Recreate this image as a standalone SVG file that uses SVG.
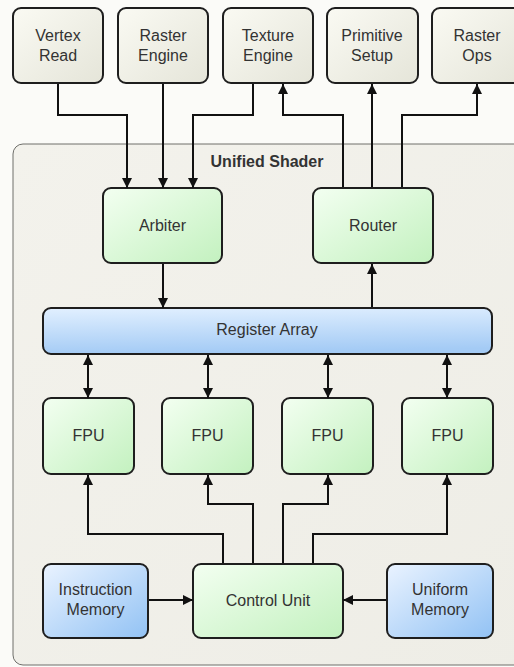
<svg xmlns="http://www.w3.org/2000/svg" width="514" height="667" viewBox="0 0 514 667">
  <defs>
    <linearGradient id="gBeige" x1="0" y1="0" x2="1" y2="1">
      <stop offset="0" stop-color="#fafaf3"/>
      <stop offset="1" stop-color="#e5e5d9"/>
    </linearGradient>
    <linearGradient id="gGreen" x1="0" y1="0" x2="1" y2="1">
      <stop offset="0" stop-color="#f3fff1"/>
      <stop offset="1" stop-color="#c3f1bf"/>
    </linearGradient>
    <linearGradient id="gBlue" x1="0" y1="0" x2="1" y2="1">
      <stop offset="0" stop-color="#eaf3ff"/>
      <stop offset="1" stop-color="#92c2f4"/>
    </linearGradient>
    <linearGradient id="gBar" x1="0" y1="0" x2="0.15" y2="1">
      <stop offset="0" stop-color="#e2f0ff"/>
      <stop offset="1" stop-color="#a4cbf5"/>
    </linearGradient>
    <linearGradient id="gShell" x1="0" y1="0" x2="1" y2="1">
      <stop offset="0" stop-color="#f3f2ec"/>
      <stop offset="1" stop-color="#eeede6"/>
    </linearGradient>
    <marker id="arrow" viewBox="0 0 10 10" refX="10" refY="5" markerWidth="5" markerHeight="5" orient="auto-start-reverse" markerUnits="strokeWidth">
      <path d="M0,0 L10,5 L0,10 Z" fill="#111"/>
    </marker>
  </defs>
  <style>
    .box { stroke: #1e1e1e; stroke-width: 2; }
    .beige { fill: url(#gBeige); }
    .green { fill: url(#gGreen); }
    .blue { fill: url(#gBlue); }
    .lbl { font-family: "Liberation Sans", Arial, sans-serif; font-size: 16px; fill: #333; text-anchor: middle; }
    .title { font-family: "Liberation Sans", Arial, sans-serif; font-size: 16px; font-weight: bold; fill: #333; text-anchor: middle; }
    .wire { fill: none; stroke: #111; stroke-width: 2; marker-end: url(#arrow); }
    .both { marker-start: url(#arrow); }
  </style>

  <rect width="514" height="667" fill="#fbfbf8"/>

  <!-- shader container -->
  <g id="unified-shader">
    <rect x="13" y="144" width="530" height="521" rx="10" fill="url(#gShell)" stroke="#6e6e6a" stroke-width="1"/>
    <text class="title" x="267" y="167">Unified Shader</text>
  </g>

  <!-- external units -->
  <g id="vertex-read">
    <rect class="box beige" x="13" y="8" width="90" height="75" rx="8"/>
    <text class="lbl" x="58" y="41">Vertex</text>
    <text class="lbl" x="58" y="61">Read</text>
  </g>
  <g id="raster-engine">
    <rect class="box beige" x="118" y="8" width="90" height="75" rx="8"/>
    <text class="lbl" x="163" y="41">Raster</text>
    <text class="lbl" x="163" y="61">Engine</text>
  </g>
  <g id="texture-engine">
    <rect class="box beige" x="223" y="8" width="90" height="75" rx="8"/>
    <text class="lbl" x="268" y="41">Texture</text>
    <text class="lbl" x="268" y="61">Engine</text>
  </g>
  <g id="primitive-setup">
    <rect class="box beige" x="327" y="8" width="91" height="75" rx="8"/>
    <text class="lbl" x="372" y="41">Primitive</text>
    <text class="lbl" x="372" y="61">Setup</text>
  </g>
  <g id="raster-ops">
    <rect class="box beige" x="432" y="8" width="90" height="75" rx="8"/>
    <text class="lbl" x="477" y="41">Raster</text>
    <text class="lbl" x="477" y="61">Ops</text>
  </g>

  <!-- shader internals -->
  <g id="arbiter">
    <rect class="box green" x="103" y="188" width="119" height="75" rx="8"/>
    <text class="lbl" x="162.5" y="231">Arbiter</text>
  </g>
  <g id="router">
    <rect class="box green" x="313" y="188" width="120" height="75" rx="8"/>
    <text class="lbl" x="373" y="231">Router</text>
  </g>
  <g id="register-array">
    <rect class="box" fill="url(#gBar)" x="43" y="308" width="449" height="46" rx="8"/>
    <text class="lbl" x="267" y="335">Register Array</text>
  </g>
  <g id="fpu-1">
    <rect class="box green" x="43" y="398" width="91" height="76" rx="8"/>
    <text class="lbl" x="88.5" y="441">FPU</text>
  </g>
  <g id="fpu-2">
    <rect class="box green" x="162" y="398" width="91" height="76" rx="8"/>
    <text class="lbl" x="207.5" y="441">FPU</text>
  </g>
  <g id="fpu-3">
    <rect class="box green" x="282" y="398" width="91" height="76" rx="8"/>
    <text class="lbl" x="327.5" y="441">FPU</text>
  </g>
  <g id="fpu-4">
    <rect class="box green" x="402" y="398" width="91" height="76" rx="8"/>
    <text class="lbl" x="447.5" y="441">FPU</text>
  </g>
  <g id="instruction-memory">
    <rect class="box blue" x="43" y="564" width="105" height="74" rx="8"/>
    <text class="lbl" x="95.5" y="595">Instruction</text>
    <text class="lbl" x="95.5" y="615">Memory</text>
  </g>
  <g id="control-unit">
    <rect class="box green" x="193" y="564" width="150" height="74" rx="8"/>
    <text class="lbl" x="268" y="606">Control Unit</text>
  </g>
  <g id="uniform-memory">
    <rect class="box blue" x="387" y="564" width="106" height="74" rx="8"/>
    <text class="lbl" x="440" y="595">Uniform</text>
    <text class="lbl" x="440" y="615">Memory</text>
  </g>

  <!-- connectors -->
  <g id="connectors">
    <path class="wire" d="M58,84 V115 H127 V188"/>
    <path class="wire" d="M163,84 V188"/>
    <path class="wire" d="M253,84 V115 H193 V188"/>
    <path class="wire" d="M343,187 V115 H283 V84"/>
    <path class="wire" d="M372,187 V84"/>
    <path class="wire" d="M402,187 V115 H477 V84"/>
    <path class="wire" d="M163,264 V308"/>
    <path class="wire" d="M372,307 V264"/>
    <path class="wire both" d="M88,355 V398"/>
    <path class="wire both" d="M208,355 V398"/>
    <path class="wire both" d="M328,355 V398"/>
    <path class="wire both" d="M447,355 V398"/>
    <path class="wire" d="M223,563 V534 H88 V475"/>
    <path class="wire" d="M253,563 V504 H208 V475"/>
    <path class="wire" d="M283,563 V504 H328 V475"/>
    <path class="wire" d="M313,563 V534 H447 V475"/>
    <path class="wire" d="M149,600 H193"/>
    <path class="wire" d="M386,600 H343"/>
  </g>
</svg>
